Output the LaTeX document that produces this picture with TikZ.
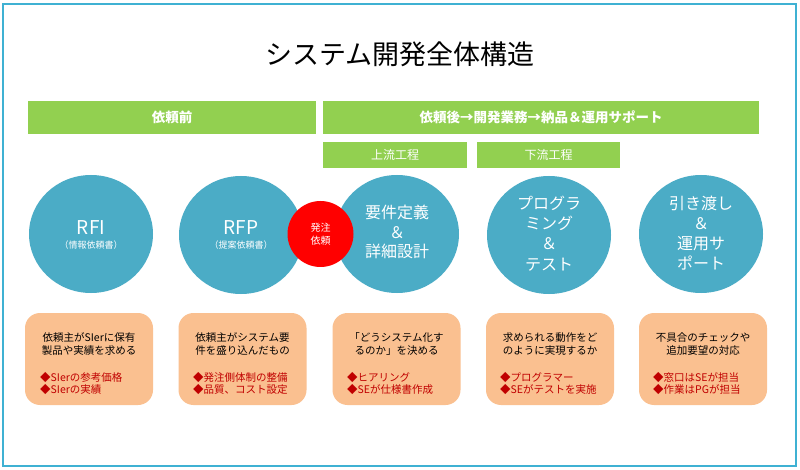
\documentclass[tikz,border=0pt]{standalone}
\usepackage{fontspec}
\setmainfont{Noto Sans CJK JP}
\usetikzlibrary{shapes.geometric}
\definecolor{barG}{HTML}{92D050}
\definecolor{circB}{HTML}{4BACC6}
\definecolor{boxO}{HTML}{FAC090}
\definecolor{redT}{HTML}{C00000}
\definecolor{frameB}{HTML}{3FB1D3}
\tikzset{
  bar/.style={fill=barG, text=white, inner sep=0pt},
  blob/.style={ellipse, fill=circB, minimum width=124pt, minimum height=118pt, inner sep=0pt},
  ctext/.style={text=white, align=center, inner sep=0pt},
  infobox/.style={fill=boxO, rounded corners=15pt, minimum width=128pt, minimum height=92pt, inner sep=0pt},
  btext/.style={align=center, font=\fontsize{10.5}{13.5}\selectfont, inner sep=0pt},
  rtext/.style={align=left, anchor=west, text=redT, font=\fontsize{10.5}{12.5}\selectfont, inner sep=0pt}
}
\begin{document}
\begin{tikzpicture}[x=1pt,y=-1pt]
\useasboundingbox[fill=white] (0,0) rectangle (800,470);
\draw[frameB, line width=1.2pt] (3,4) rectangle (796,466);
\node[inner sep=0pt, font=\fontsize{27}{30}\selectfont] (title) at (400,54) {システム開発全体構造};
% bars
\node[bar, minimum width=288pt, minimum height=33pt, font=\fontsize{13.5}{15}\selectfont\bfseries] (bar1) at (172,117.5) {依頼前};
\node[bar, minimum width=436pt, minimum height=33pt, font=\fontsize{13.5}{15}\selectfont\bfseries] (bar2) at (541,117.5) {依頼後→開発業務→納品＆運用サポート};
\node[bar, minimum width=144pt, minimum height=26pt, font=\fontsize{12}{14}\selectfont] (up) at (395,155) {上流工程};
\node[bar, minimum width=143pt, minimum height=26pt, font=\fontsize{12}{14}\selectfont] (down) at (548.5,155) {下流工程};
% circles
\node[blob] (c1) at (91,234) {};
\node[blob] (c2) at (241,235) {};
\node[blob] (c3) at (397,234) {};
\node[blob] (c4) at (549,235) {};
\node[blob] (c5) at (701,234) {};
\node[circle, fill=red, minimum size=66pt, inner sep=0pt] (order) at (320.5,234) {};
\node[ctext, font=\fontsize{19}{20}\selectfont] (t1) at (91,228) {RFI};
\node[ctext, font=\fontsize{9}{10}\selectfont] (s1) at (91,245) {（情報依頼書）};
\node[ctext, font=\fontsize{19}{20}\selectfont] (t2) at (241,228) {RFP};
\node[ctext, font=\fontsize{9}{10}\selectfont] (s2) at (241,245) {（提案依頼書）};
\node[ctext, font=\fontsize{10}{13}\selectfont] (t6) at (320.5,234) {発注\\依頼};
\node[ctext, font=\fontsize{16}{19.5}\selectfont] (t3) at (397,232) {要件定義\\＆\\詳細設計};
\node[ctext, font=\fontsize{16}{20.3}\selectfont] (t4) at (549,233.5) {プログラ\\ミング\\＆\\テスト};
\node[ctext, font=\fontsize{16}{20}\selectfont] (t5) at (701,233.5) {引き渡し\\＆\\運用サ\\ポート};
% info boxes
\node[infobox] (k1) at (89,359) {};
\node[infobox] (k2) at (242.5,359) {};
\node[infobox] (k3) at (396.5,359) {};
\node[infobox] (k4) at (550,359) {};
\node[infobox] (k5) at (703,359) {};
\node[btext] (m1) at (89,344) {依頼主がSIerに保有\\製品や実績を求める};
\node[btext] (m2) at (242.5,344) {依頼主がシステム要\\件を盛り込んだもの};
\node[btext] (m3) at (396.5,344) {「どうシステム化す\\るのか」を決める};
\node[btext] (m4) at (550,344) {求められる動作をど\\のように実現するか};
\node[btext] (m5) at (703,344) {不具合のチェックや\\追加要望の対応};
\node[rtext] (r1) at (40,383.5) {◆SIerの参考価格\\◆SIerの実績};
\node[rtext] (r2) at (193,383.5) {◆発注側体制の整備\\◆品質、コスト設定};
\node[rtext] (r3) at (347,383.5) {◆ヒアリング\\◆SEが仕様書作成};
\node[rtext] (r4) at (500,383.5) {◆プログラマー\\◆SEがテストを実施};
\node[rtext] (r5) at (653,383.5) {◆窓口はSEが担当\\◆作業はPGが担当};
\end{tikzpicture}
\end{document}
